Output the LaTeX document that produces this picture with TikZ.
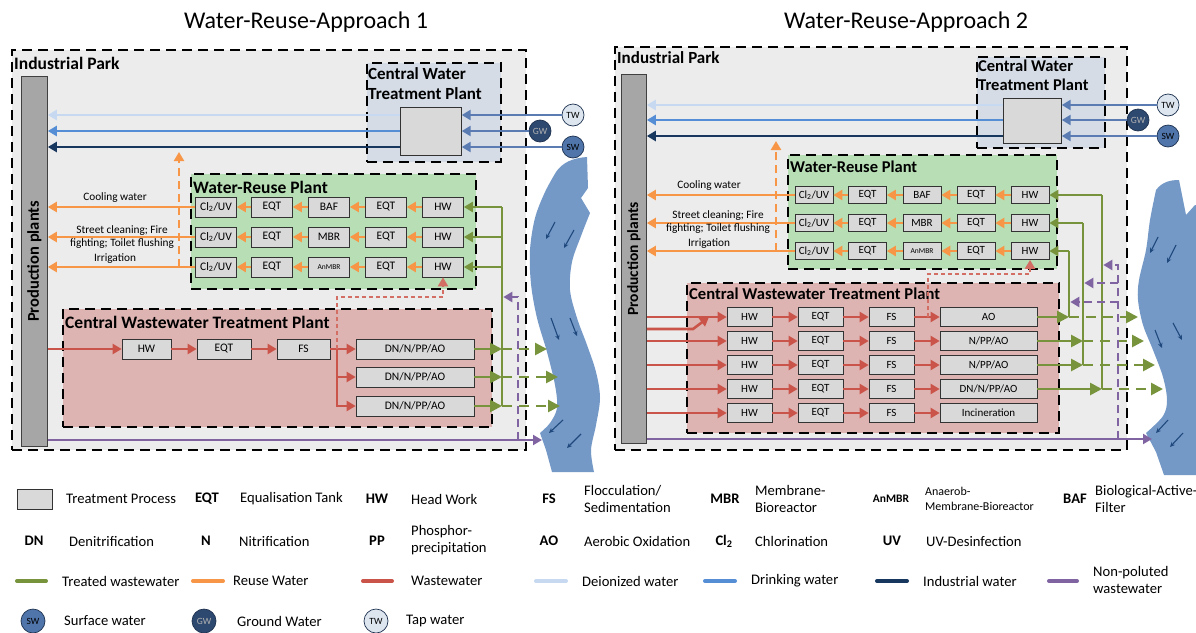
\documentclass[tikz,border=0pt]{standalone}
\usepackage{fontspec}
\setmainfont{Carlito}
\usetikzlibrary{arrows.meta,calc}

\definecolor{ipgray}{RGB}{236,236,236}
\definecolor{cwtpfill}{RGB}{213,220,230}
\definecolor{wrpfill}{RGB}{184,222,181}
\definecolor{cwwfill}{RGB}{221,180,178}
\definecolor{procgray}{RGB}{217,217,217}
\definecolor{bargray}{RGB}{166,166,166}
\definecolor{cgreen}{RGB}{119,147,60}
\definecolor{corange}{RGB}{247,150,70}
\definecolor{cred}{RGB}{203,84,74}
\definecolor{cdeion}{RGB}{198,217,241}
\definecolor{cdrink}{RGB}{85,142,213}
\definecolor{cindus}{RGB}{23,55,94}
\definecolor{cin}{RGB}{90,124,178}
\definecolor{cpurple}{RGB}{128,100,162}
\definecolor{criver}{RGB}{116,153,199}
\definecolor{crivarrow}{RGB}{31,73,125}
\definecolor{swfill}{RGB}{79,117,170}
\definecolor{gwfill}{RGB}{46,73,112}
\definecolor{twfill}{RGB}{221,229,239}
\definecolor{srcedge}{RGB}{30,50,80}

\newcommand\fsz[2]{\fontsize{#1}{#2}\selectfont}

\tikzset{
  zone/.style={draw=black, line width=1.8pt, dash pattern=on 10pt off 6pt, inner sep=0pt, anchor=north west},
  zonetitle/.style={font=\bfseries\fsz{17.5}{20}, anchor=west, inner sep=0pt},
  prodbar/.style={draw=black!75, fill=bargray, line width=0.8pt, anchor=north west, inner sep=0pt},
  proc/.style={draw=black!80, fill=procgray, line width=0.7pt, inner sep=0pt},
  procL/.style={proc, minimum width=41pt, minimum height=20pt, font=\fsz{11.5}{13}},
  procR/.style={proc, minimum width=38pt, minimum height=17pt, font=\fsz{11}{12}},
  src/.style={circle, draw=srcedge, line width=0.7pt, minimum size=22pt, inner sep=0pt, font=\fsz{9.5}{10}},
  flowlbl/.style={font=\fsz{11.3}{12.5}, inner sep=0pt, align=center},
  flow/.style={line width=2.6pt},
  arr/.style={-{Triangle[length=9pt,width=10pt]}},
  bigarr/.style={-{Triangle[length=12pt,width=12pt]}},
  treated/.style={flow, color=cgreen},
  reuse/.style={flow, color=corange},
  waste/.style={flow, color=cred},
  wastedot/.style={line width=2.2pt, color=cred!85!white, dash pattern=on 4pt off 3pt},
  deion/.style={flow, color=cdeion},
  drink/.style={flow, color=cdrink},
  indus/.style={flow, color=cindus},
  inflow/.style={flow, color=cin},
  clean/.style={line width=2.2pt, color=cpurple},
  longdash/.style={dash pattern=on 10pt off 7pt},
  middash/.style={dash pattern=on 8pt off 5pt},
  riverfill/.style={fill=criver},
  rarrow/.style={line width=1.1pt, color=crivarrow, -{Stealth[length=5pt,width=4.5pt]}},
  legtxt/.style={font=\fsz{14.6}{17}, anchor=west, inner sep=0pt, align=left},
  legabbr/.style={font=\bfseries\fsz{14.6}{17}, inner sep=0pt},
  legline/.style={line width=4pt, line cap=round},
}

\begin{document}
\begin{tikzpicture}[x=1pt,y=-1pt]
\useasboundingbox (0,0) rectangle (1196,632);
\fill[white] (0,0) rectangle (1196,632);

% ---------- titles ----------
\node[font=\fsz{24}{28}] (titleL) at (306,22) {Water-Reuse-Approach 1};
\node[font=\fsz{24}{28}] (titleR) at (906,22) {Water-Reuse-Approach 2};

% ---------- rivers ----------
\fill[riverfill] (587,157) .. controls (572,158) and (562,163) .. (556,172)
  -- plot[smooth, tension=0.55] coordinates {(556,172) (545,192) (535,218) (530,250) (531,284) (537,318) (547,352) (555,385) (557,408) (550,423) (540,433)}
  -- (546,450) -- (552,472) -- (594,472)
  -- plot[smooth, tension=0.55] coordinates {(594,472) (591,450) (596,425) (600,398) (596,372) (587,345) (577,318) (570,290) (572,262) (581,236) (590,213)}
  -- (581,198) -- (588,188) -- cycle;
\begin{scope}
\clip (0,0) rectangle (1196,632);
\fill[riverfill] (1179,180) .. controls (1170,180) and (1162,182) .. (1156,190)
  -- plot[smooth, tension=0.55] coordinates {(1156,190) (1150,220) (1146,250) (1139,280) (1138,300) (1143,325) (1153,350) (1163,377) (1167,400) (1163,416) (1146,433)}
  -- (1156,452) -- (1164,475) -- (1205,475) -- (1205,205) -- (1195,205) -- (1186,215) -- (1183,200) -- cycle;
\end{scope}
% flow marks in the rivers
\draw[rarrow] (555,222) -- (546,239);
\draw[rarrow] (574,230) -- (564,248);
\draw[rarrow] (551,318) -- (559,340);
\draw[rarrow] (570,318) -- (577,336);
\draw[rarrow] (563,420) -- (549,433);
\draw[rarrow] (581,434) -- (567,448);
\draw[rarrow] (1158,237) -- (1150,253);
\draw[rarrow] (1176,245) -- (1167,263);
\draw[rarrow] (1155,330) -- (1162,348);
\draw[rarrow] (1173,323) -- (1182,340);
\draw[rarrow] (1168,420) -- (1156,433);
\draw[rarrow] (1183,433) -- (1170,447);

% =====================================================
% Approach 1
% =====================================================
\node[zone, fill=ipgray, minimum width=514pt, minimum height=400pt] (ipL) at (11,49) {};
\node[zonetitle] (ipLt) at (14,63) {Industrial Park};
\node[prodbar, minimum width=26pt, minimum height=370pt] (barL) at (21,76) {};
\node[rotate=90, font=\bfseries\fsz{16.5}{19}] (barLt) at (barL.center) {Production plants};

% central water treatment
\node[zone, fill=cwtpfill, minimum width=134pt, minimum height=99pt] (cwtpL) at (366,62) {};
\node[font=\bfseries\fsz{17}{20}, align=left, anchor=north west, inner sep=0pt] (cwtpLt) at (368,67) {Central Water\\Treatment Plant};
\node[proc, minimum width=61pt, minimum height=48pt, anchor=north west] (gL) at (400,107) {};
\node[src, fill=twfill] (twL) at (573,115) {TW};
\node[src, fill=gwfill, text=gray!60] (gwL) at (540,131) {GW};
\node[src, fill=swfill] (swL) at (573,147) {SW};
\draw[inflow, arr] (twL) -- (twL -| gL.east);
\draw[inflow, arr] (gwL) -- (gwL -| gL.east);
\draw[inflow, arr] (swL) -- (swL -| gL.east);
\draw[deion, arr] (gL.west |- twL) -- (barL.east |- twL);
\draw[drink, arr] (gL.west |- gwL) -- (barL.east |- gwL);
\draw[indus, arr] (gL.west |- swL) -- (barL.east |- swL);

% water-reuse plant
\node[zone, fill=wrpfill, minimum width=285pt, minimum height=115pt] (wrpL) at (190,173) {};
\node[zonetitle] (wrpLt) at (193,187) {Water-Reuse Plant};
\foreach \r/\y in {1/207,2/237,3/267}{
  \node[procL] (clL\r) at (216,\y) {Cl\textsubscript{2}/UV};
  \node[procL] (eqaL\r) at (272,\y) {EQT};
  \node[procL] (eqbL\r) at (386,\y) {EQT};
  \node[procL] (hwL\r) at (443,\y) {HW};
}
\node[procL] (midL1) at (329,207) {BAF};
\node[procL] (midL2) at (329,237) {MBR};
\node[procL, font=\fsz{7.5}{9}] (midL3) at (329,267) {AnMBR};
\foreach \r in {1,2,3}{
  \draw[reuse, arr] (hwL\r) -- (eqbL\r);
  \draw[reuse, arr] (eqbL\r) -- (midL\r);
  \draw[reuse, arr] (midL\r) -- (eqaL\r);
  \draw[reuse, arr] (eqaL\r) -- (clL\r);
  \draw[reuse, arr] (clL\r) -- (clL\r -| barL.east);
}
\node[flowlbl] (lbL1) at (115,198) {Cooling water};
\node[flowlbl] (lbL2) at (122,237) {Street cleaning; Fire\\fighting; Toilet flushing};
\node[flowlbl] (lbL3) at (115,259) {Irrigation};
\coordinate (irrL) at (179,267);
\coordinate (upL) at (179,152);
\draw[reuse, middash, arr] (irrL) -- (upL);

% central wastewater treatment
\node[zone, fill=cwwfill, minimum width=429pt, minimum height=118pt] (cwwL) at (62,308) {};
\node[zonetitle] (cwwLt) at (65,322) {Central Wastewater Treatment Plant};
\node[procL, minimum width=49pt] (hwLw) at (146.5,349) {HW};
\node[procL, minimum width=54pt] (eqLw) at (224,349) {EQT};
\node[procL, minimum width=53pt] (fsLw) at (303.5,349) {FS};
\node[procL, minimum width=118pt] (dnL1) at (415,349) {DN/N/PP/AO};
\node[procL, minimum width=118pt] (dnL2) at (415,377) {DN/N/PP/AO};
\node[procL, minimum width=118pt] (dnL3) at (415,406) {DN/N/PP/AO};
\draw[waste, arr] (barL.east |- hwLw) -- (hwLw);
\draw[waste, arr] (hwLw) -- (eqLw);
\draw[waste, arr] (eqLw) -- (fsLw);
\draw[waste, arr] (fsLw) -- (dnL1);
\coordinate (brL) at (337,349);
\draw[waste, arr] (brL) |- (dnL3);
\draw[waste, arr] (brL |- dnL2) -- (dnL2);
\coordinate (rdL) at (443,297);
\draw[wastedot, arr] (brL) |- (rdL) -- (hwL3);

% treated water loop
\coordinate (gvL) at (502,207);
\draw[treated] (gvL) -- (gvL |- dnL3);
\draw[treated, arr] (gvL) -- (hwL1);
\draw[treated, arr] (gvL |- hwL2) -- (hwL2);
\draw[treated, arr] (gvL |- hwL3) -- (hwL3);
\coordinate (rvL1) at (547,349);
\coordinate (rvL2) at (558,377);
\coordinate (rvL3) at (560,406);
\draw[treated, bigarr] (dnL1) -- (gvL |- dnL1);
\draw[treated, bigarr] (dnL2) -- (gvL |- dnL2);
\draw[treated, bigarr] (dnL3) -- (gvL |- dnL3);
\draw[treated, longdash, bigarr] (gvL |- dnL1) -- (rvL1);
\draw[treated, longdash, bigarr] (gvL |- dnL2) -- (rvL2);
\draw[treated, longdash, bigarr] (gvL |- dnL3) -- (rvL3);

% non-polluted water
\coordinate (rvLp) at (542,440);
\coordinate (pvL) at (518,440);
\coordinate (ptL) at (518,297);
\draw[clean, arr] (barL.east |- rvLp) -- (rvLp);
\draw[clean, middash, arr] (pvL) -- (ptL) -- ($(gvL |- ptL)+(1.3,0)$);

% =====================================================
% Approach 2
% =====================================================
\node[zone, fill=ipgray, minimum width=512pt, minimum height=403pt] (ipR) at (614,46) {};
\node[zonetitle, font=\bfseries\fsz{17}{20}] (ipRt) at (617,58) {Industrial Park};
\node[prodbar, minimum width=25pt, minimum height=369pt] (barR) at (621,74) {};
\node[rotate=90, font=\bfseries\fsz{15.5}{19}] (barRt) at (barR.center) {Production plants};

\node[zone, fill=cwtpfill, minimum width=128pt, minimum height=91pt] (cwtpR) at (976,56) {};
\node[font=\bfseries\fsz{16.5}{19}, align=left, anchor=north west, inner sep=0pt] (cwtpRt) at (978,60) {Central Water\\Treatment Plant};
\node[proc, minimum width=58pt, minimum height=45pt, anchor=north west] (gR) at (1003,98) {};
\node[src, fill=twfill] (twR) at (1168,105) {TW};
\node[src, fill=gwfill, text=gray!60] (gwR) at (1138,120) {GW};
\node[src, fill=swfill] (swR) at (1168,136) {SW};
\draw[inflow, arr] (twR) -- (twR -| gR.east);
\draw[inflow, arr] (gwR) -- (gwR -| gR.east);
\draw[inflow, arr] (swR) -- (swR -| gR.east);
\draw[deion, arr] (gR.west |- twR) -- (barR.east |- twR);
\draw[drink, arr] (gR.west |- gwR) -- (barR.east |- gwR);
\draw[indus, arr] (gR.west |- swR) -- (barR.east |- swR);

\node[zone, fill=wrpfill, minimum width=269pt, minimum height=114pt] (wrpR) at (787,154) {};
\node[zonetitle, font=\bfseries\fsz{16.5}{19}] (wrpRt) at (790,167) {Water-Reuse Plant};
\foreach \r/\y in {1/195,2/223,3/251}{
  \node[procR] (clR\r) at (814,\y) {Cl\textsubscript{2}/UV};
  \node[procR] (eqaR\r) at (867.5,\y) {EQT};
  \node[procR] (eqbR\r) at (976,\y) {EQT};
  \node[procR] (hwR\r) at (1030,\y) {HW};
}
\node[procR] (midR1) at (922,195) {BAF};
\node[procR] (midR2) at (922,223) {MBR};
\node[procR, font=\fsz{7.5}{9}] (midR3) at (922,251) {AnMBR};
\foreach \r in {1,2,3}{
  \draw[reuse, arr] (hwR\r) -- (eqbR\r);
  \draw[reuse, arr] (eqbR\r) -- (midR\r);
  \draw[reuse, arr] (midR\r) -- (eqaR\r);
  \draw[reuse, arr] (eqaR\r) -- (clR\r);
  \draw[reuse, arr] (clR\r) -- (clR\r -| barR.east);
}
\node[flowlbl] (lbR1) at (709,186) {Cooling water};
\node[flowlbl] (lbR2) at (718,222) {Street cleaning; Fire\\fighting; Toilet flushing};
\node[flowlbl] (lbR3) at (709,244) {Irrigation};
\coordinate (irrR) at (776,251);
\coordinate (upR) at (776,141);
\draw[reuse, middash, arr] (irrR) -- (upR);

\node[zone, fill=cwwfill, minimum width=372pt, minimum height=150pt] (cwwR) at (686,282) {};
\node[zonetitle, font=\bfseries\fsz{16.6}{19}] (cwwRt) at (689,294) {Central Wastewater Treatment Plant};
\foreach \r/\y in {1/317,2/341,3/365,4/389,5/413}{
  \node[procR, minimum width=45pt, minimum height=19pt] (hwRw\r) at (749.5,\y) {HW};
  \node[procR, minimum width=45pt, minimum height=19pt] (eqRw\r) at (820.5,\y) {EQT};
  \node[procR, minimum width=45pt, minimum height=19pt] (fsRw\r) at (891.5,\y) {FS};
}
\node[procR, minimum width=97pt, minimum height=19pt] (bigR1) at (988.5,317) {AO};
\node[procR, minimum width=97pt, minimum height=19pt] (bigR2) at (988.5,341) {N/PP/AO};
\node[procR, minimum width=97pt, minimum height=19pt] (bigR3) at (988.5,365) {N/PP/AO};
\node[procR, minimum width=97pt, minimum height=19pt] (bigR4) at (988.5,389) {DN/N/PP/AO};
\node[procR, minimum width=97pt, minimum height=19pt] (bigR5) at (988.5,413) {Incineration};
\foreach \r in {1,...,5}{
  \draw[waste, arr] (barR.east |- hwRw\r) -- (hwRw\r);
  \draw[waste, arr] (hwRw\r) -- (eqRw\r);
  \draw[waste, arr] (eqRw\r) -- (fsRw\r);
  \draw[waste, arr] (fsRw\r) -- (bigR\r);
}
\coordinate (exR) at (693,329);
\coordinate (mgR) at (709,317);
\draw[waste, arr] (barR.east |- exR) -- (exR) -- (mgR);
\coordinate (rdR1) at (928,317);
\coordinate (rdR2) at (1030,274);
\draw[wastedot, arr] (rdR1) |- (rdR2) -- (hwR3);

% treated water loops
\coordinate (vA) at (1069,251);
\coordinate (vB) at (1083,223);
\coordinate (vC) at (1102,195);
\draw[treated] (vA) -- (vA |- bigR1);
\draw[treated] (vB) -- (vB |- bigR3);
\draw[treated] (vC) -- (vC |- bigR4);
\draw[treated, arr] (vC) -- (hwR1);
\draw[treated, arr] (vB) -- (hwR2);
\draw[treated, arr] (vA) -- (hwR3);
\draw[treated, bigarr] (bigR1) -- (vA |- bigR1);
\draw[treated, bigarr] (bigR2) -- (vB |- bigR2);
\draw[treated, bigarr] (bigR3) -- (vB |- bigR3);
\draw[treated, bigarr] (bigR4) -- (vC |- bigR4);
\coordinate (rvR1) at (1138,317);
\coordinate (rvR2) at (1144,341);
\coordinate (rvR3) at (1155,365);
\coordinate (rvR4) at (1163,389);
\draw[treated, longdash, bigarr] (vA |- bigR1) -- (rvR1);
\draw[treated, longdash, bigarr] (vB |- bigR2) -- (rvR2);
\draw[treated, longdash, bigarr] (vB |- bigR3) -- (rvR3);
\draw[treated, longdash, bigarr] (vC |- bigR4) -- (rvR4);

% non-polluted water
\coordinate (rvRp) at (1152,439);
\coordinate (pvR) at (1118,439);
\coordinate (ptR1) at (1118,265);
\coordinate (ptR2) at (1118,283);
\coordinate (ptR3) at (1118,302);
\draw[clean, arr] (barR.east |- rvRp) -- (rvRp);
\draw[clean, middash, arr] (pvR) -- (ptR1) -- ($(vC |- ptR1)+(1.3,0)$);
\draw[clean, middash, arr] (ptR2) -- ($(vB |- ptR2)+(1.3,0)$);
\draw[clean, middash, arr] (ptR3) -- ($(vA |- ptR3)+(1.3,0)$);

% =====================================================
% legend
% =====================================================
\node[proc, minimum width=35pt, minimum height=20pt] (lgBox) at (34.5,499) {};
\node[legtxt] (lgBoxt) at (66,499) {Treatment Process};
\node[legabbr] (lgEQT) at (207,499) {EQT};
\node[legtxt] (lgEQTt) at (240,499) {Equalisation Tank};
\node[legabbr] (lgHW) at (377,499) {HW};
\node[legtxt] (lgHWt) at (411,499) {Head Work};
\node[legabbr] (lgFS) at (549,499) {FS};
\node[legtxt] (lgFSt) at (584,499) {Flocculation/\\Sedimentation};
\node[legabbr] (lgMBR) at (725,499) {MBR};
\node[legtxt] (lgMBRt) at (755,499) {Membrane-\\Bioreactor};
\node[legabbr, font=\bfseries\fsz{11.5}{13}] (lgAn) at (891,499) {AnMBR};
\node[legtxt, font=\fsz{12}{14.5}] (lgAnt) at (925,499) {Anaerob-\\Membrane-Bioreactor};
\node[legabbr] (lgBAF) at (1075,499) {BAF};
\node[legtxt] (lgBAFt) at (1095,499) {Biological-Active-\\Filter};

\node[legabbr] (lgDN) at (34,541) {DN};
\node[legtxt] (lgDNt) at (69,541) {Denitrification};
\node[legabbr] (lgN) at (206,541) {N};
\node[legtxt] (lgNt) at (239,541) {Nitrification};
\node[legabbr] (lgPP) at (377,541) {PP};
\node[legtxt] (lgPPt) at (411,540) {Phosphor-\\precipitation};
\node[legabbr] (lgAO) at (549,541) {AO};
\node[legtxt] (lgAOt) at (584,541) {Aerobic Oxidation};
\node[legabbr] (lgCl) at (724,541) {Cl\textsubscript{2}};
\node[legtxt] (lgClt) at (755,541) {Chlorination};
\node[legabbr] (lgUV) at (892,541) {UV};
\node[legtxt] (lgUVt) at (926,541) {UV-Desinfection};

\draw[legline, cgreen] (17,581) -- (46,581);
\node[legtxt] (lgTWW) at (62,581) {Treated wastewater};
\draw[legline, corange] (193,581) -- (223,581);
\node[legtxt] (lgRW) at (233,581) {Reuse Water};
\draw[legline, cred] (363,581) -- (392,581);
\node[legtxt] (lgWW) at (411,581) {Wastewater};
\draw[legline, cdeion] (536,581) -- (566,581);
\node[legtxt] (lgDI) at (582,581) {Deionized water};
\draw[legline, cdrink] (705,581) -- (735,581);
\node[legtxt] (lgDW) at (751,581) {Drinking water};
\draw[legline, cindus] (877,581) -- (907,581);
\node[legtxt] (lgIW) at (923,581) {Industrial water};
\draw[legline, cpurple] (1049,581) -- (1077,581);
\node[legtxt] (lgNP) at (1093,580) {Non-poluted\\wastewater};

\node[src, fill=swfill, minimum size=24pt] (lgSW) at (33,621) {SW};
\node[legtxt] (lgSWt) at (64,621) {Surface water};
\node[src, fill=gwfill, text=gray!60, minimum size=24pt] (lgGW) at (204,621) {GW};
\node[legtxt] (lgGWt) at (237,621) {Ground Water};
\node[src, fill=twfill, minimum size=24pt] (lgTW) at (376,621) {TW};
\node[legtxt] (lgTWt) at (406,621) {Tap water};
\end{tikzpicture}
\end{document}
